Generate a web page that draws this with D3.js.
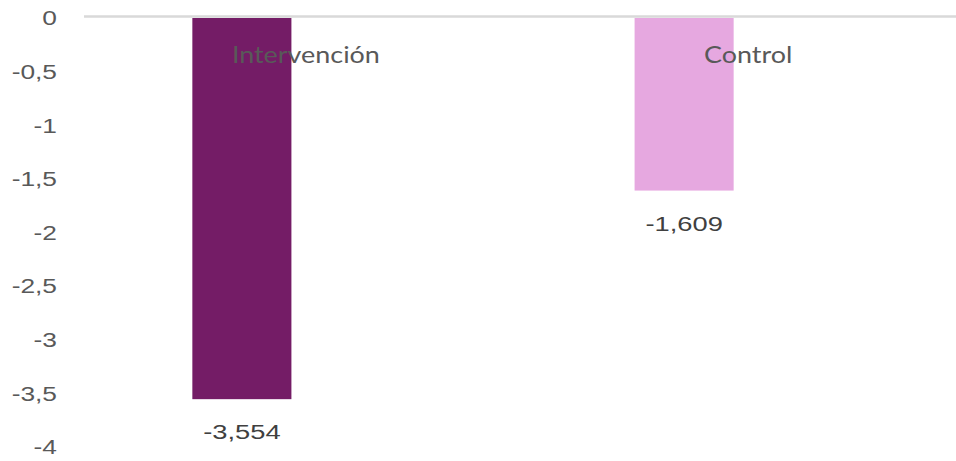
<!DOCTYPE html>
<html>
<head>
<meta charset="utf-8">
<script src="https://cdn.jsdelivr.net/npm/d3@7"></script>
<style>
  html, body { margin: 0; padding: 0; background: #fff; }
  svg { display: block; }
</style>
</head>
<body>
<svg id="chart" width="956" height="461"></svg>
<script>
// Chart data
const categories = ["Intervención", "Control"];
const values = [-3.554, -1.609];
const valueLabels = ["-3,554", "-1,609"];
const barColors = ["#741c66", "#e6a8e0"];
const tickValues = [0, -0.5, -1, -1.5, -2, -2.5, -3, -3.5, -4];
const tickLabels = ["0", "-0,5", "-1", "-1,5", "-2", "-2,5", "-3", "-3,5", "-4"];

const svg = d3.select("#chart");
const W = 956, H = 461;

const y = d3.scaleLinear().domain([0, -4]).range([18, 447]);
const x = d3.scaleBand()
  .domain(categories)
  .range([84, 842])
  .paddingInner(0.776)
  .paddingOuter(0.245);

const textGray = "#595959";

// Draws a horizontally widened text label anchored at (px, py)
function wideText(sel, px, py, sx) {
  return sel.attr("transform", `translate(${px},${py}) scale(${sx},1)`)
    .attr("x", 0).attr("y", 0);
}

// Bars hang down from zero
svg.append("g").selectAll("rect")
  .data(categories)
  .join("rect")
  .attr("x", d => x(d))
  .attr("width", x.bandwidth())
  .attr("y", y(0))
  .attr("height", (d, i) => y(values[i]) - y(0))
  .attr("fill", (d, i) => barColors[i]);

// Zero baseline
svg.append("line")
  .attr("x1", 84).attr("x2", W)
  .attr("y1", y(0) - 1.5).attr("y2", y(0) - 1.5)
  .attr("stroke", "#d9d9d9")
  .attr("stroke-width", 2.5);

// Y axis: labels only
const yAxis = d3.axisLeft(y)
  .tickValues(tickValues)
  .tickFormat((d, i) => tickLabels[i])
  .tickSize(0);
const gy = svg.append("g").attr("transform", "translate(57,0)").call(yAxis);
gy.select(".domain").remove();
gy.selectAll(".tick text").each(function () {
  const t = d3.select(this);
  t.attr("font-family", "'Liberation Sans', Arial, sans-serif")
    .attr("font-size", 19.5)
    .attr("fill", textGray)
    .attr("text-anchor", "end")
    .attr("dy", "0.35em");
  wideText(t, 0, 0, 1.35);
});

// Category labels
svg.append("g").selectAll("text")
  .data(categories)
  .join("text")
  .each(function (d) {
    wideText(d3.select(this), x(d) + x.bandwidth() / 2 + 64, 63, 1.17);
  })
  .attr("text-anchor", "middle")
  .attr("font-family", "Lato, sans-serif")
  .attr("font-size", 23)
  .attr("fill", textGray)
  .text(d => d);

// Value labels below each bar
svg.append("g").selectAll("text")
  .data(categories)
  .join("text")
  .each(function (d, i) {
    wideText(d3.select(this), x(d) + x.bandwidth() / 2, y(values[i]) + 40, 1.3);
  })
  .attr("text-anchor", "middle")
  .attr("font-family", "'Liberation Sans', Arial, sans-serif")
  .attr("font-size", 21)
  .attr("fill", "#404040")
  .text((d, i) => valueLabels[i]);
</script>
</body>
</html>
